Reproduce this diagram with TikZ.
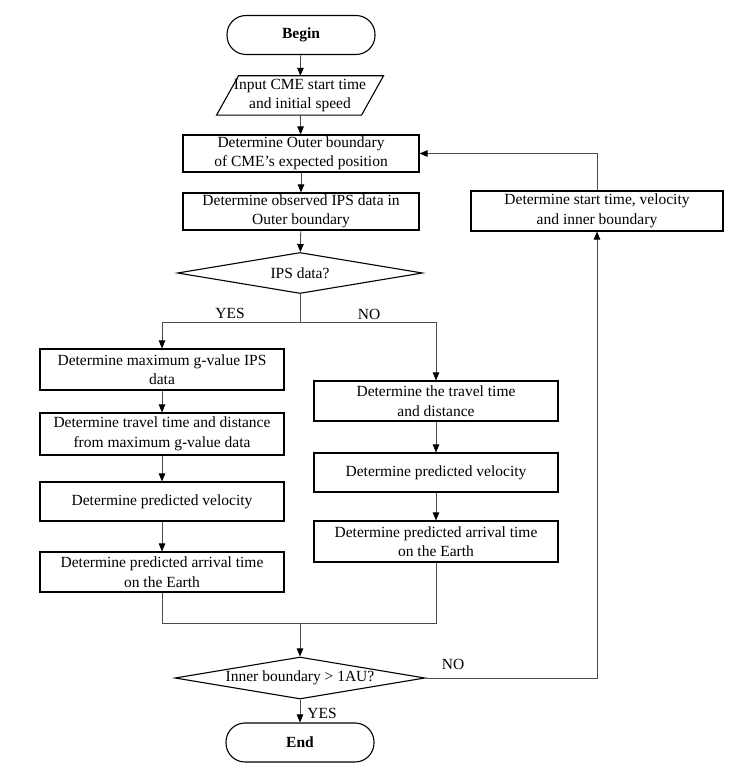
\documentclass[tikz,border=0pt]{standalone}
\usepackage{fontspec}
\setmainfont{Liberation Serif}
\usetikzlibrary{shapes.geometric,arrows.meta}
\begin{document}
\begin{tikzpicture}[x=1pt,y=-1pt,
  font=\fontsize{15.5}{19.5}\selectfont,
  box/.style={draw=black,line width=1.1pt,minimum width=244pt,align=center,inner sep=0pt},
  term/.style={draw=black,line width=1.1pt,rounded corners=19pt,minimum width=148pt,minimum height=39pt,inner sep=0pt,font=\fontsize{15.5}{19.5}\selectfont\bfseries},
  dec/.style={draw=black,line width=1.1pt,diamond,aspect=6,inner sep=0pt},
  conn/.style={draw=black!70,line width=0.8pt},
  arr/.style={conn,-{Triangle[length=8pt,width=6.5pt,color=black]}},
  lbl/.style={inner sep=0pt}]
\useasboundingbox[fill=white] (0,0) rectangle (738,775);

% main column
\node[term] (begin) at (301,35) {Begin};
\node[minimum width=120pt,minimum height=39pt,inner sep=0pt,align=center] (input) at (300,95.5) {Input CME start time\\and initial speed};
\draw[line width=1.1pt] ([xshift=-61.5pt]input.north) -- ([xshift=83.5pt]input.north) -- ([xshift=61.5pt]input.south) -- ([xshift=-83.5pt]input.south) -- cycle;
\node[box,minimum width=236pt,minimum height=37pt] (outer) at (301,153.5) {Determine Outer boundary\\of CME’s expected position};
\node[box,minimum width=236pt,minimum height=37pt] (observed) at (301,211.5) {Determine observed IPS data in\\Outer boundary};
\node[dec,minimum width=245pt,minimum height=41pt] (ips) at (300,273) {IPS data?};

% left column
\node[box,minimum height=41pt] (l1) at (162,369.5) {Determine maximum g-value IPS\\data};
\node[box,minimum height=42pt] (l2) at (162,434) {Determine travel time and distance\\from maximum g-value data};
\node[box,minimum height=39pt] (l3) at (162,501.5) {Determine predicted velocity};
\node[box,minimum height=40pt] (l4) at (162,572) {Determine predicted arrival time\\on the Earth};

% right column
\node[box,minimum height=40pt] (r1) at (436,401) {Determine the travel time\\and distance};
\node[box,minimum height=39pt] (r2) at (436,472.5) {Determine predicted velocity};
\node[box,minimum height=41pt] (r3) at (436,541.5) {Determine predicted arrival time\\on the Earth};

% feedback box
\node[box,minimum width=252pt,minimum height=40pt] (start) at (597,211) {Determine start time, velocity\\and inner boundary};

% bottom
\node[dec,minimum width=250pt,minimum height=42pt] (inner) at (300,678) {Inner boundary > 1AU?};
\node[term] (end) at (300,742.5) {End};

% coordinates
\coordinate (br) at (300,322);
\coordinate (mg) at (300,623);

% connectors
\draw[arr] (begin) -- (input);
\draw[arr] (input) -- (outer);
\draw[arr] (outer) -- (observed);
\draw[arr] (observed) -- (ips);
\draw[conn] (ips.south) -- (br);
\draw[arr] (br) -| (l1.north);
\draw[arr] (br) -| (r1.north);
\draw[arr] (l1) -- (l2);
\draw[arr] (l2) -- (l3);
\draw[arr] (l3) -- (l4);
\draw[arr] (r1) -- (r2);
\draw[arr] (r2) -- (r3);
\draw[conn] (l4.south) |- (mg);
\draw[conn] (r3.south) |- (mg);
\draw[arr] (mg) -- (inner.north);
\draw[arr] (inner.east) -| (start.south);
\draw[arr] (start.north) |- (outer.east);
\draw[arr] (inner.south) -- (end.north);

% labels
\node[lbl] (yes1) at (230,313) {YES};
\node[lbl] (no1) at (369,314) {NO};
\node[lbl] (no2) at (453,664) {NO};
\node[lbl] (yes2) at (322,713) {YES};
\end{tikzpicture}
\end{document}
